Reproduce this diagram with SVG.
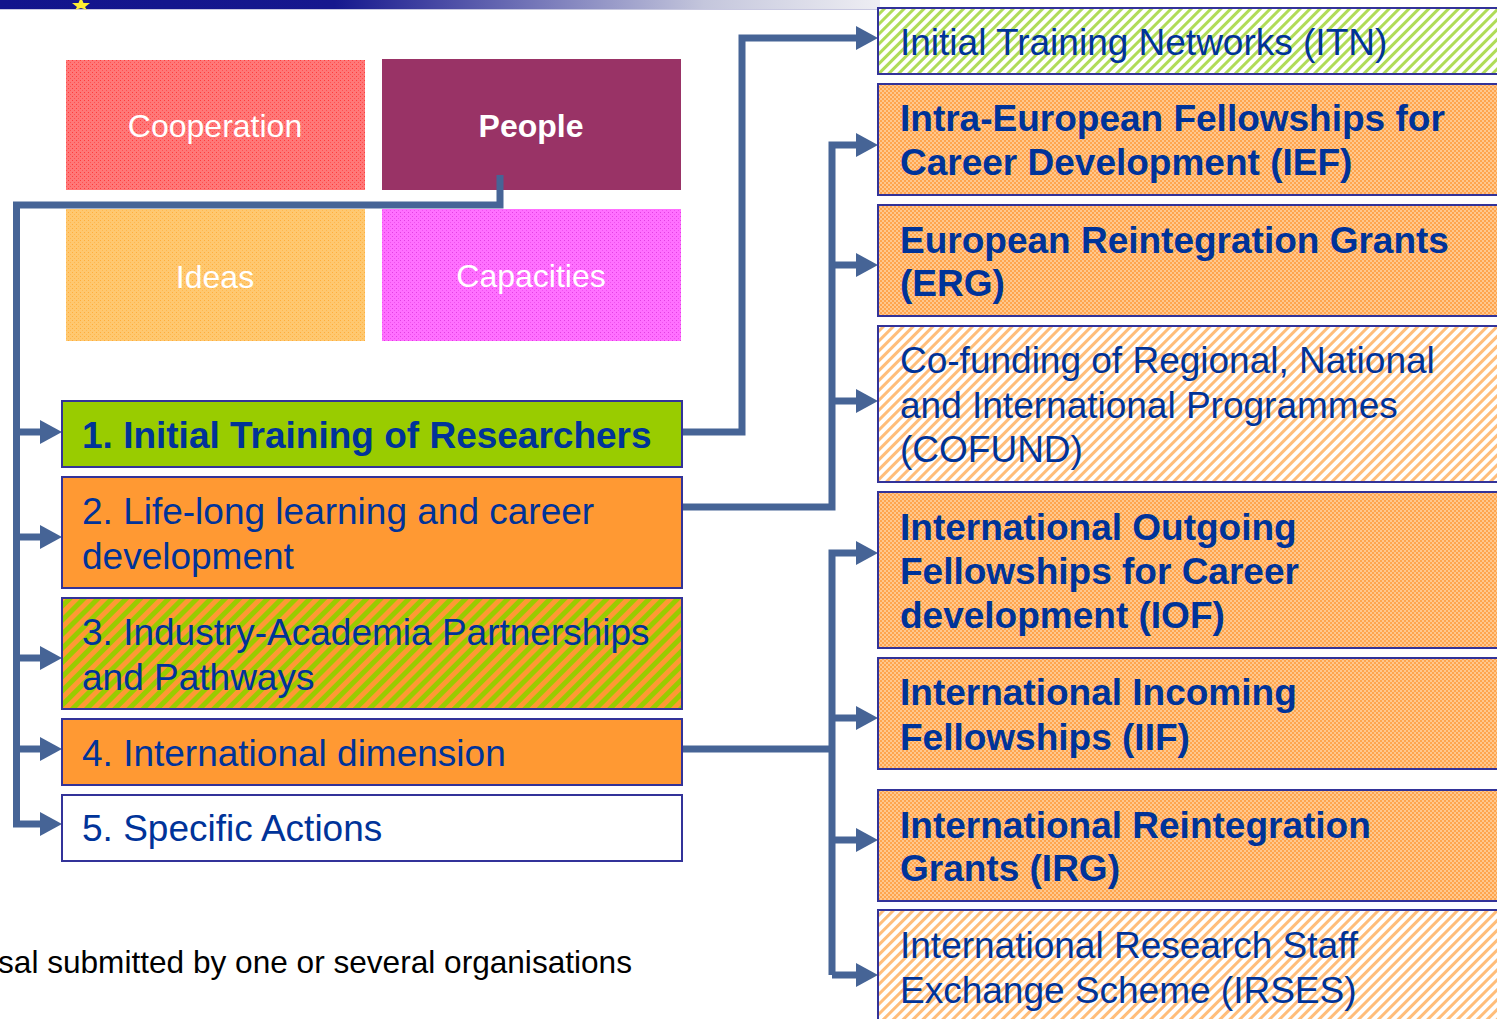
<svg xmlns="http://www.w3.org/2000/svg" width="1497" height="1019" viewBox="0 0 1497 1019">
<defs>
<linearGradient id="banner" x1="0" y1="0" x2="1" y2="0">
<stop offset="0" stop-color="#12148c"/>
<stop offset="0.38" stop-color="#16188e"/>
<stop offset="0.8" stop-color="#c4c6dc"/>
<stop offset="1" stop-color="#eeeef3"/>
</linearGradient>
<pattern id="dotRed" width="4" height="4" patternUnits="userSpaceOnUse"><rect width="4" height="4" fill="#ff7878"/><rect width="1" height="1" fill="#ff3a3a"/><rect x="2" y="2" width="1" height="1" fill="#ff5050"/></pattern>
<pattern id="dotYellow" width="4" height="4" patternUnits="userSpaceOnUse"><rect width="4" height="4" fill="#ffc870"/><rect width="1" height="1" fill="#ffad3a"/><rect x="2" y="2" width="1" height="1" fill="#ffb84d"/></pattern>
<pattern id="dotPink" width="4" height="4" patternUnits="userSpaceOnUse"><rect width="4" height="4" fill="#ff70ff"/><rect width="1" height="1" fill="#e040e0"/><rect x="2" y="2" width="1" height="1" fill="#f050f0"/></pattern>
<pattern id="checkOrange" width="4" height="4" patternUnits="userSpaceOnUse"><rect width="4" height="4" fill="#ffc88e"/><rect width="2" height="2" fill="#ffa54e"/><rect x="2" y="2" width="2" height="2" fill="#ffa54e"/></pattern>
<pattern id="hatchGreen" width="7" height="7" patternUnits="userSpaceOnUse" patternTransform="rotate(45)"><rect width="7" height="7" fill="#ffffff"/><rect width="3" height="7" fill="#b0dc58"/></pattern>
<pattern id="hatchOrange" width="7" height="7" patternUnits="userSpaceOnUse" patternTransform="rotate(45)"><rect width="7" height="7" fill="#ffffff"/><rect width="3" height="7" fill="#ffbd7a"/></pattern>
<pattern id="stripeOG" width="10" height="10" patternUnits="userSpaceOnUse" patternTransform="rotate(45)"><rect width="10" height="10" fill="#ff9933"/><rect width="5" height="10" fill="#99cc00"/></pattern>
<marker id="arr" viewBox="0 0 22 24" refX="12" refY="12" markerWidth="22" markerHeight="24" markerUnits="userSpaceOnUse" orient="auto"><path d="M0,0 L22,12 L0,24 z" fill="#466496"/></marker>
</defs>
<style>
.box{stroke:#333399;stroke-width:2}
.t{font-family:"Liberation Sans",Arial,sans-serif;font-size:37px;fill:#003399}
.b{font-weight:bold}
.w{font-family:"Liberation Sans",Arial,sans-serif;font-size:32px;fill:#ffffff;text-anchor:middle}
.c{fill:none;stroke:#466496;stroke-width:7;stroke-linejoin:miter}
</style>
<rect width="1497" height="1019" fill="#ffffff"/>
<rect x="0" y="0" width="880" height="9" fill="url(#banner)"/>
<rect x="0" y="9" width="880" height="1" fill="#c8c8e0"/>
<polygon points="81,-3 83.5,3 90,3 85,7 87,10 81,8 75,10 77,7 72,3 78.5,3" fill="#ffee33"/>

<g id="cooperation"><rect x="66" y="60" width="299" height="130" fill="url(#dotRed)"/><text class="w" x="215" y="137">Cooperation</text></g>
<g id="people"><rect x="382" y="59" width="299" height="131" fill="#993366"/><text class="w b" x="531" y="137">People</text></g>
<g id="ideas"><rect x="66" y="209" width="299" height="132" fill="url(#dotYellow)"/><text class="w" x="215" y="288">Ideas</text></g>
<g id="capacities"><rect x="382" y="209" width="299" height="132" fill="url(#dotPink)"/><text class="w" x="531" y="287">Capacities</text></g>

<g id="connectors">
<path class="c" d="M500,175 V205 H16.5 V824 H52" marker-end="url(#arr)"/>
<path class="c" d="M16.5,432 H52" marker-end="url(#arr)"/>
<path class="c" d="M16.5,537 H52" marker-end="url(#arr)"/>
<path class="c" d="M16.5,658 H52" marker-end="url(#arr)"/>
<path class="c" d="M16.5,749 H52" marker-end="url(#arr)"/>
<path class="c" d="M682,432 H742 V38 H868" marker-end="url(#arr)"/>
<path class="c" d="M682,507 H832 V145 H868" marker-end="url(#arr)"/>
<path class="c" d="M832,265 H868" marker-end="url(#arr)"/>
<path class="c" d="M832,401 H868" marker-end="url(#arr)"/>
<path class="c" d="M682,749 H832"/>
<path class="c" d="M832,975 V553 H868" marker-end="url(#arr)"/>
<path class="c" d="M832,718 H868" marker-end="url(#arr)"/>
<path class="c" d="M832,840 H868" marker-end="url(#arr)"/>
<path class="c" d="M832,975 H868" marker-end="url(#arr)"/>
</g>

<g id="itr"><rect class="box" x="62" y="401" width="620" height="66" fill="#99cc00"/><text class="t b" x="82" y="448">1. Initial Training of Researchers</text></g>
<g id="lifelong"><rect class="box" x="62" y="477" width="620" height="111" fill="#ff9933"/><text class="t" x="82" y="524">2. Life-long learning and career</text><text class="t" x="82" y="569">development</text></g>
<g id="industry"><rect class="box" x="62" y="598" width="620" height="111" fill="url(#stripeOG)"/><text class="t" x="82" y="645">3. Industry-Academia Partnerships</text><text class="t" x="82" y="690">and Pathways</text></g>
<g id="international"><rect class="box" x="62" y="719" width="620" height="66" fill="#ff9933"/><text class="t" x="82" y="766">4. International dimension</text></g>
<g id="specific"><rect class="box" x="62" y="795" width="620" height="66" fill="#ffffff"/><text class="t" x="82" y="841">5. Specific Actions</text></g>

<g id="itn"><rect class="box" x="878" y="8" width="640" height="66" fill="url(#hatchGreen)"/><text class="t" x="900" y="55">Initial Training Networks (ITN)</text></g>
<g id="ief"><rect class="box" x="878" y="84" width="640" height="111" fill="url(#checkOrange)"/><text class="t b" x="900" y="131">Intra-European Fellowships for</text><text class="t b" x="900" y="175">Career Development (IEF)</text></g>
<g id="erg"><rect class="box" x="878" y="205" width="640" height="111" fill="url(#checkOrange)"/><text class="t b" x="900" y="253">European Reintegration Grants</text><text class="t b" x="900" y="296">(ERG)</text></g>
<g id="cofund"><rect class="box" x="878" y="326" width="640" height="156" fill="url(#hatchOrange)"/><text class="t" x="900" y="373">Co-funding of Regional, National</text><text class="t" x="900" y="418">and International Programmes</text><text class="t" x="900" y="462">(COFUND)</text></g>
<g id="iof"><rect class="box" x="878" y="492" width="640" height="156" fill="url(#checkOrange)"/><text class="t b" x="900" y="540">International Outgoing</text><text class="t b" x="900" y="584">Fellowships for Career</text><text class="t b" x="900" y="628">development (IOF)</text></g>
<g id="iif"><rect class="box" x="878" y="658" width="640" height="111" fill="url(#checkOrange)"/><text class="t b" x="900" y="705">International Incoming</text><text class="t b" x="900" y="750">Fellowships (IIF)</text></g>
<g id="irg"><rect class="box" x="878" y="790" width="640" height="111" fill="url(#checkOrange)"/><text class="t b" x="900" y="838">International Reintegration</text><text class="t b" x="900" y="881">Grants (IRG)</text></g>
<g id="irses"><rect class="box" x="878" y="910" width="640" height="130" fill="url(#hatchOrange)"/><text class="t" x="900" y="958">International Research Staff</text><text class="t" x="900" y="1003">Exchange Scheme (IRSES)</text></g>

<text x="632" y="973" text-anchor="end" font-family="Liberation Sans, Arial, sans-serif" font-size="31.6" fill="#000000">sal submitted by one or several organisations</text>
</svg>
